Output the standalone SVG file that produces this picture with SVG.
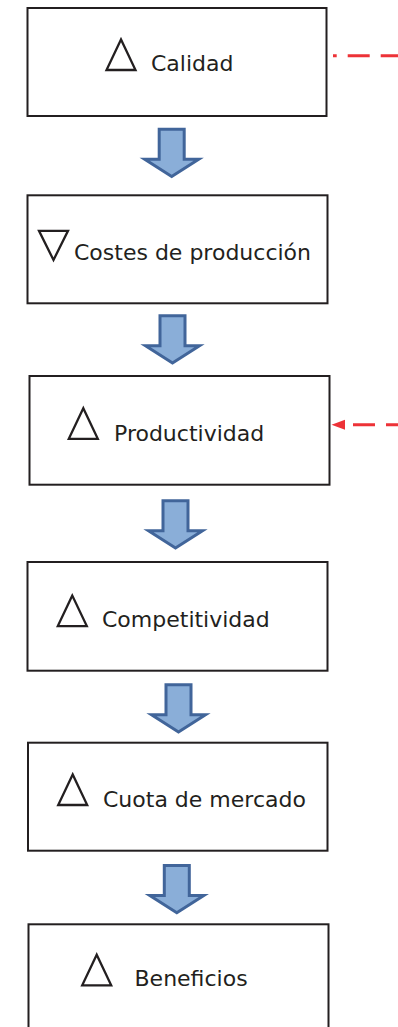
<svg xmlns="http://www.w3.org/2000/svg" xmlns:xlink="http://www.w3.org/1999/xlink" width="398" height="1027" viewBox="0 0 398 1027">
<style>
.box{fill:#fff;stroke:#231f20;stroke-width:2}
.tri{fill:none;stroke:#231f20;stroke-width:2.3;stroke-linejoin:miter}
.lbl{font-family:"DejaVu Sans",Verdana,sans-serif;font-size:22px;fill:#231f20}
.flow{fill:#8aaed8;stroke:#41659a;stroke-width:3;stroke-linejoin:miter}
.dash{fill:none;stroke:#ed3237;stroke-width:3;stroke-dasharray:22 11}
</style>
<defs>
<path id="up" d="M0,0 L-14.5,30.5 H14.5 Z"/>
<path id="flowArrow" d="M-12.5,1.5 H12.5 V31.5 H27 L0,48.7 L-27,31.5 H-12.5 Z"/>
<marker id="redHead" markerUnits="userSpaceOnUse" markerWidth="14" markerHeight="11" viewBox="0 0 14 11" refX="0" refY="5.5" orient="auto">
<path d="M0,0.5 L13.5,5.5 L0,10.5 Z" fill="#ed3237"/>
</marker>
</defs>
<g id="connectors">
<use xlink:href="#flowArrow" class="flow" transform="translate(171.7,127.7)"/>
<use xlink:href="#flowArrow" class="flow" transform="translate(172.5,314.3)"/>
<use xlink:href="#flowArrow" class="flow" transform="translate(175.5,499.3)"/>
<use xlink:href="#flowArrow" class="flow" transform="translate(178.5,683.3)"/>
<use xlink:href="#flowArrow" class="flow" transform="translate(176.8,864)"/>
<path class="dash" d="M398,55.7 H333" stroke-dashoffset="4.7"/>
<path class="dash" d="M398,424.7 H345" stroke-dashoffset="10" marker-end="url(#redHead)"/>
</g>
<g id="calidad">
<rect class="box" x="27.5" y="8" width="299" height="108"/>
<use xlink:href="#up" class="tri" transform="translate(121,39.5)"/>
<text class="lbl" x="151" y="71">Calidad</text>
</g>
<g id="costes">
<rect class="box" x="27.5" y="195.3" width="300" height="108"/>
<path class="tri" d="M39,230.8 H68 L53.5,260 Z"/>
<text class="lbl" x="74" y="260">Costes de producción</text>
</g>
<g id="productividad">
<rect class="box" x="29.5" y="376" width="300" height="108.7"/>
<use xlink:href="#up" class="tri" transform="translate(83.3,408.3)"/>
<text class="lbl" x="114" y="440.7">Productividad</text>
</g>
<g id="competitividad">
<rect class="box" x="27.5" y="562" width="300" height="108.7"/>
<use xlink:href="#up" class="tri" transform="translate(72.3,595.6)"/>
<text class="lbl" x="102" y="627.3">Competitividad</text>
</g>
<g id="cuota">
<rect class="box" x="28" y="742.7" width="299.5" height="108"/>
<use xlink:href="#up" class="tri" transform="translate(72.7,774.5)"/>
<text class="lbl" x="103" y="807.3">Cuota de mercado</text>
</g>
<g id="beneficios">
<rect class="box" x="28.5" y="924.3" width="300" height="110"/>
<use xlink:href="#up" class="tri" transform="translate(96.7,954.8)"/>
<text class="lbl" x="134.5" y="985.7">Beneficios</text>
</g>
</svg>
